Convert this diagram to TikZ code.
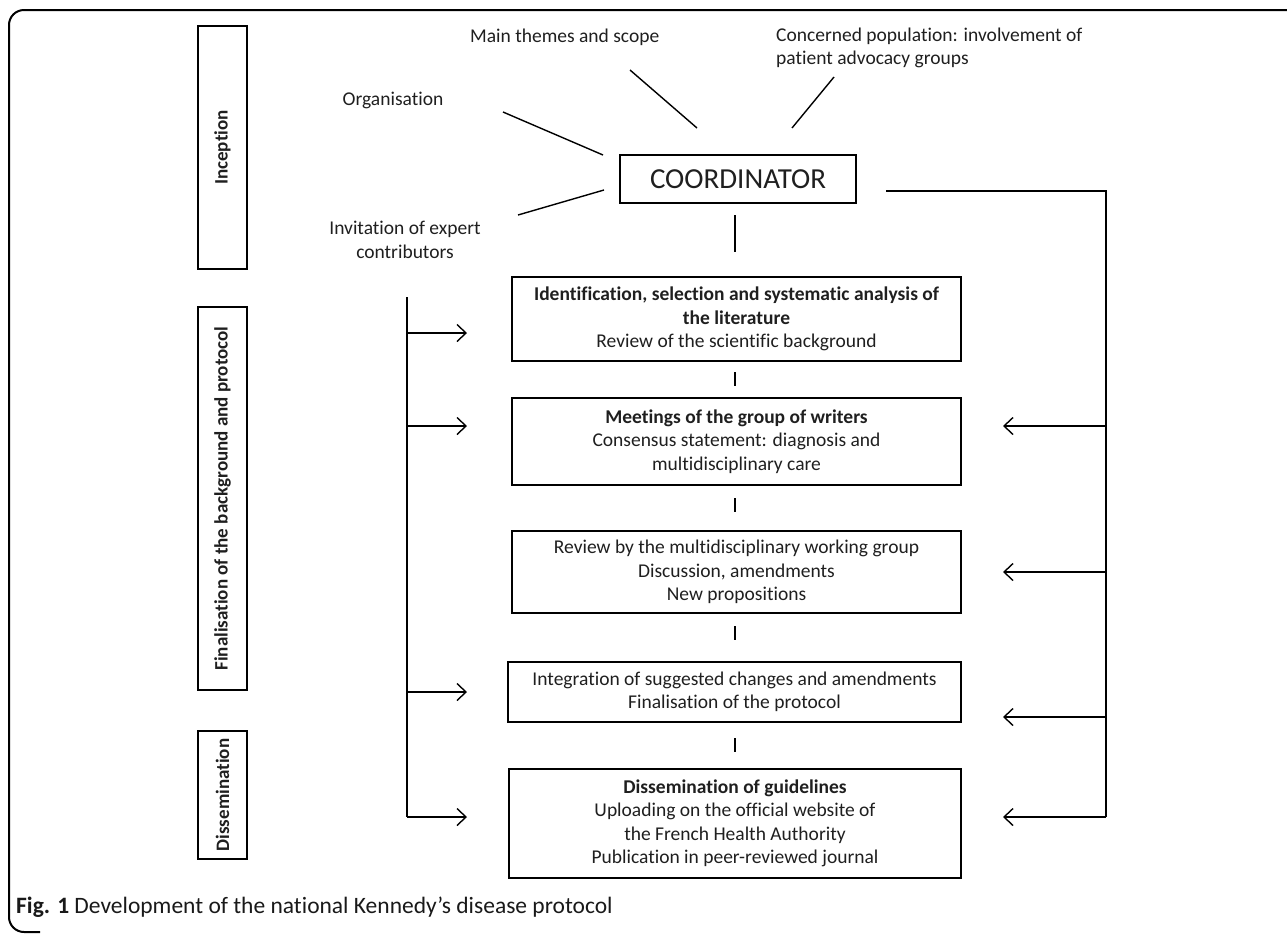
\documentclass[tikz,border=0pt]{standalone}
\usepackage{fontspec}
\setmainfont{Carlito}[Ligatures=NoCommon]
\usetikzlibrary{arrows.meta,calc}
\begin{document}
\begin{tikzpicture}[x=1pt,y=-1pt,
  txt/.style={font=\fontsize{19.5}{23.5}\selectfont, inner sep=0pt, align=center, text=black!88},
  btxt/.style={txt, font=\bfseries\fontsize{19}{23}\selectfont},
  stagebox/.style={draw, line width=1.3pt, minimum width=49pt, inner sep=0pt},
  flowbox/.style={draw, line width=1.5pt, inner sep=0pt, align=center, text=black!88,
                  font=\fontsize{19.5}{23.5}\selectfont},
  link/.style={line width=1.4pt},
  arr/.style={line width=1.4pt, -{Straight Barb[length=9pt,width=17pt,line width=1.4pt]}},
]
\useasboundingbox (0,0) rectangle (1287,935);
% outer frame
\draw[line width=2pt, rounded corners=15pt] (1295,10) -- (9,10) -- (9,932) -- (40,932);

% stage boxes
\node[stagebox, minimum height=243pt] (inc) at (222.5,147.5) {};
\node[btxt, rotate=90] (incT) at (inc.center) {Inception};
\node[stagebox, minimum height=383pt] (fin) at (222.5,498.5) {};
\node[btxt, rotate=90] (finT) at (fin.center) {Finalisation of the background and protocol};
\node[stagebox, minimum height=128pt] (dis) at (222.5,795) {};
\node[btxt, rotate=90] (disT) at (dis.center) {Dissemination};

% coordinator and satellites
\node[flowbox, minimum width=236pt, minimum height=48pt, font=\fontsize{29}{34}\selectfont] (coord) at (738,179) {COORDINATOR};
\node[txt] (org) at (393,100) {Organisation};
\node[txt] (inv) at (405,240) {Invitation of expert\\contributors};
\node[txt, anchor=base west] (main) at (470,42) {Main themes and scope};
\node[txt, align=left, anchor=north west] (conc) at (776,27.5) {Concerned population: involvement of\\patient advocacy groups};

\coordinate (orgA) at (503,112);  \coordinate (orgB) at (603,155);
\coordinate (invA) at (518,215);  \coordinate (invB) at (604,190);
\coordinate (mainA) at (630,70);  \coordinate (mainB) at (697,128);
\coordinate (concA) at (834,77);  \coordinate (concB) at (792,128);
\draw[link] (orgA) -- (orgB);
\draw[link] (invA) -- (invB);
\draw[link] (mainA) -- (mainB);
\draw[link] (concA) -- (concB);

% flow boxes
\node[flowbox, minimum width=449pt, minimum height=84pt] (b1) at (736.5,319)
  {\textbf{Identification, selection and systematic analysis of}\\\textbf{the literature}\\Review of the scientific background};
\node[flowbox, minimum width=449pt, minimum height=87pt] (b2) at (736.5,441.5)
  {\textbf{Meetings of the group of writers}\\Consensus statement: diagnosis and\\multidisciplinary care};
\node[flowbox, minimum width=449pt, minimum height=82pt] (b3) at (736.5,572)
  {Review by the multidisciplinary working group\\Discussion, amendments\\New propositions};
\node[flowbox, minimum width=453pt, minimum height=60pt] (b4) at (734.5,692)
  {Integration of suggested changes and amendments\\Finalisation of the protocol};
\node[flowbox, minimum width=452pt, minimum height=109pt] (b5) at (735,823.5)
  {\textbf{Dissemination of guidelines}\\Uploading on the official website of\\the French Health Authority\\Publication in peer-reviewed journal};

% short vertical links
\draw[link] (735,215) -- (735,252);
\draw[link] (735,372) -- (735,386);
\draw[link] (735,498) -- (735,512);
\draw[link] (735,626) -- (735,640);
\draw[link] (735,738) -- (735,752);

% left bus
\coordinate (lt) at (407,297);
\coordinate (lb) at (407,817);
\draw[link] (lt) -- (lb);
\foreach \yy in {333,426,692,817} {
  \draw[arr] (407,\yy) -- (467,\yy);
}

% right bus
\coordinate (rs) at (886,191);
\coordinate (rc) at (1106,191);
\coordinate (rb) at (1106,817);
\draw[link] (rs) -- (rc) -- (rb);
\foreach \yy in {426,572,717,817} {
  \draw[arr] (1106,\yy) -- (1003,\yy);
}

% caption
\node[anchor=base west, inner sep=0pt, font=\fontsize{23.5}{28}\selectfont, text=black!90] (cap) at (16,913)
  {\textbf{Fig. 1} Development of the national Kennedy’s disease protocol};
\end{tikzpicture}
\end{document}
